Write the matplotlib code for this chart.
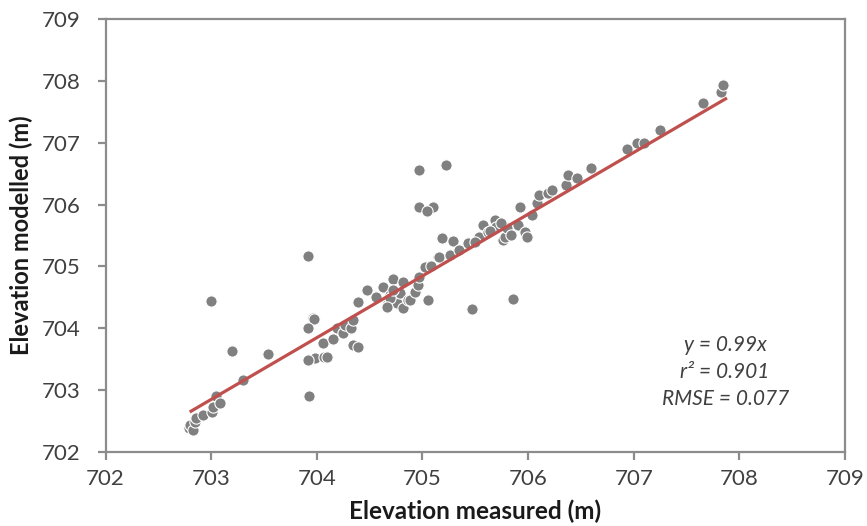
import numpy as np
import matplotlib.pyplot as plt

plt.rcParams['font.family'] = ['Lato', 'DejaVu Sans']

# elevation measured (x) and modelled (y)
measured = [702.79, 702.80, 702.83, 702.85, 702.86, 702.92, 703.01, 703.02, 703.05, 703.08,
            703.00, 703.20, 703.30, 703.54, 703.92, 703.93, 703.96, 703.97, 703.92, 703.98,
            704.06, 704.07, 704.10, 704.15, 704.19, 704.25, 704.27, 704.32, 704.34, 704.34,
            704.39, 704.39, 703.92, 704.63, 704.66, 704.69, 704.72, 704.76, 704.79, 704.82,
            704.82, 704.86, 704.88, 704.93, 704.96, 704.97, 705.02, 705.05, 704.69, 704.66,
            705.15, 705.16, 705.19, 705.26, 705.29, 705.35, 705.43, 705.47, 705.54, 705.57,
            705.69, 705.70, 705.76, 705.78, 705.80, 705.84, 705.86, 705.90, 705.92, 705.97,
            705.99, 706.04, 706.08, 706.10, 706.19, 706.23, 706.36, 706.38, 706.46, 706.60,
            706.94, 707.03, 707.10, 707.25, 707.66, 707.83, 707.85, 704.97, 705.22, 704.97,
            705.10, 705.04, 704.72, 705.50, 705.62, 705.64, 705.74, 704.48, 704.56, 705.08]
modelled = [702.39, 702.44, 702.36, 702.49, 702.55, 702.60, 702.65, 702.73, 702.90, 702.80,
            704.44, 703.64, 703.17, 703.59, 705.17, 702.91, 704.17, 704.15, 704.01, 703.52,
            703.77, 703.54, 703.54, 703.83, 704.00, 703.93, 704.06, 704.01, 704.14, 703.73,
            703.70, 704.43, 703.49, 704.67, 704.38, 704.54, 704.80, 704.41, 704.57, 704.75,
            704.33, 704.46, 704.46, 704.59, 704.70, 704.83, 704.99, 704.46, 704.49, 704.35,
            705.15, 705.16, 705.46, 705.19, 705.41, 705.27, 705.38, 704.31, 705.48, 705.67,
            705.75, 705.64, 705.43, 705.48, 705.62, 705.51, 704.48, 705.67, 705.96, 705.56,
            705.48, 705.83, 706.03, 706.16, 706.19, 706.24, 706.32, 706.48, 706.43, 706.59,
            706.90, 707.00, 707.00, 707.21, 707.64, 707.82, 707.93, 706.56, 706.64, 705.96,
            705.96, 705.90, 704.62, 705.40, 705.55, 705.58, 705.70, 704.62, 704.50, 705.00]

# trendline ends as drawn in the original
trend_x = [702.81, 707.87]
trend_y = [702.66, 707.71]

fig, ax = plt.subplots(figsize=(8.67, 5.26), dpi=100)
fig.subplots_adjust(left=0.1217, right=0.9746, top=0.9639, bottom=0.1407)

ax.scatter(measured, modelled, s=66, color='#808080', edgecolors='white', linewidths=0.8, zorder=3)
ax.plot(trend_x, trend_y, color='#c0504d', lw=2.3, zorder=4)

ax.set_xlim(702, 709)
ax.set_ylim(702, 709)
ax.set_xticks(np.arange(702, 710, 1))
ax.set_yticks(np.arange(702, 710, 1))
for s in ax.spines.values():
    s.set_color('#8c8c8c')
    s.set_linewidth(1.6)
ax.tick_params(colors='#8c8c8c', length=6, width=1.6, labelsize=16, labelcolor='#404040')
ax.tick_params(axis='y', pad=12)
ax.tick_params(axis='x', pad=6)

ax.set_xlabel('Elevation measured (m)', fontsize=17.5, fontweight='bold', color='#1a1a1a', labelpad=8)
ax.set_ylabel('Elevation modelled (m)', fontsize=17, fontweight='bold', color='#1a1a1a', labelpad=6)

ax.text(0.838, 0.185, 'y = 0.99x\nr² = 0.901\nRMSE = 0.077', transform=ax.transAxes,
        ha='center', va='center', fontsize=15, style='italic', color='#404040', linespacing=1.45)

plt.savefig('out.png', dpi=100)
